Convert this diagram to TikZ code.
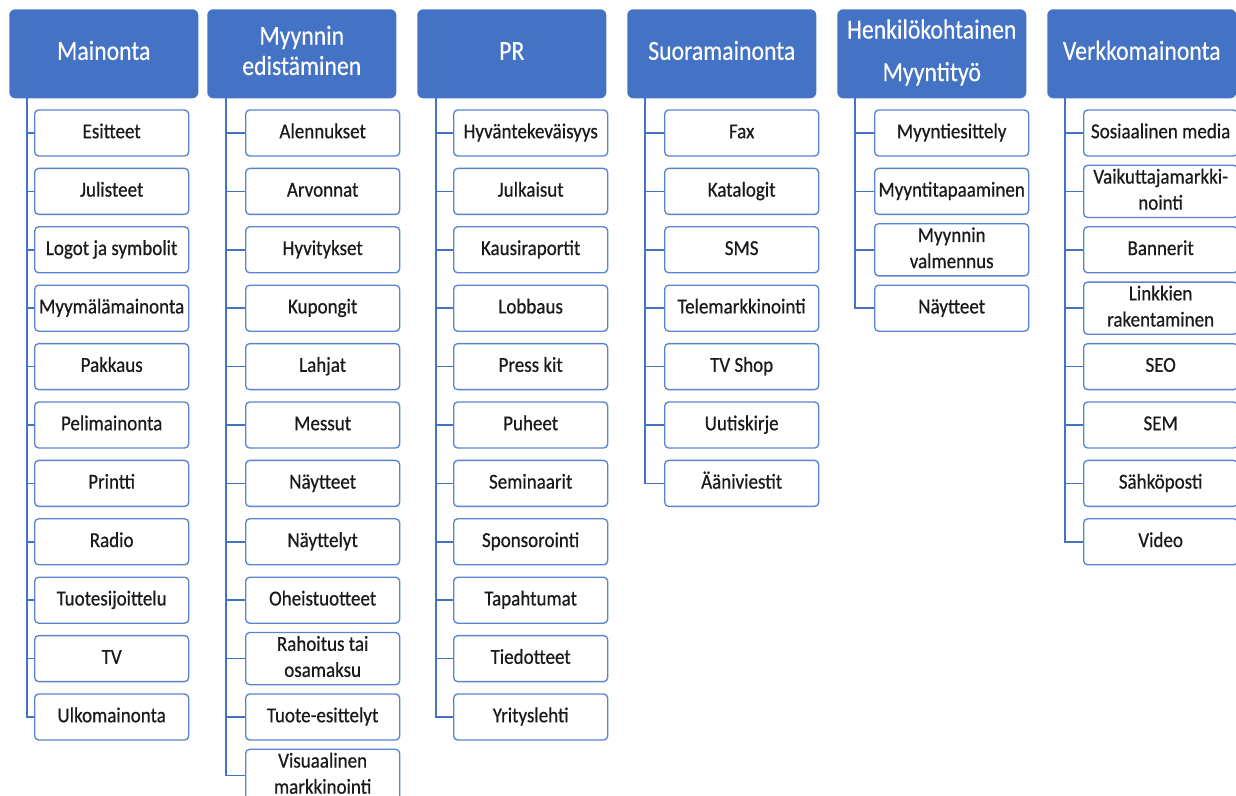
\documentclass[tikz,border=0pt]{standalone}
\usepackage{fontspec}
\setmainfont{Carlito}
\newfontface\itemfont{Carlito}[FakeBold=0.6]
\newfontface\headfont{Carlito}[FakeBold=0.4]
\usepackage{graphicx}
\definecolor{hblue}{HTML}{4472C4}
\definecolor{bblue}{HTML}{5A83D0}
\definecolor{txt}{HTML}{1A1A1A}
\newcommand\ctx[1]{\scalebox{0.92}[1.03]{\begin{tabular}{@{}c@{}}#1\end{tabular}}}
\newcommand\htx[1]{\scalebox{0.89}[1.03]{\begin{tabular}{@{}c@{}}#1\end{tabular}}}
\begin{document}
\begin{tikzpicture}[x=0.75pt,y=-0.75pt,
 head/.style={rectangle, rounded corners=4.5pt, fill=hblue, text=white, minimum width=141.75pt, minimum height=66.75pt, inner sep=0pt, font=\headfont\fontsize{20}{22}\selectfont, anchor=north west},
 item/.style={rectangle, rounded corners=3pt, draw=bblue, line width=1pt, fill=white, text=txt, minimum width=115.5pt, minimum height=34.5pt, inner sep=0pt, font=\itemfont\fontsize{15.5}{19}\selectfont, anchor=west},
 conn/.style={draw=hblue, line width=1.1pt}]
\useasboundingbox (0,0) rectangle (1236,796);
\clip (0,0) rectangle (1236,796);

\node[head] (hA) at (9,9) {\htx{Mainonta}};
\node[head] (hB) at (207,9) {\htx{Myynnin\\edistäminen}};
\node[head] (hC) at (417,9) {\htx{PR}};
\node[head] (hD) at (627,9) {\htx{Suoramainonta}};
\node[head] (hE) at (837,9) {\htx{Henkilökohtainen\\[9pt]Myyntityö}};
\node[head] (hF) at (1047,9) {\htx{Verkkomainonta}};

\coordinate (lA) at (27,98);
\coordinate (lB) at (226,98);
\coordinate (lC) at (436,98);
\coordinate (lD) at (645,98);
\coordinate (lE) at (855,98);
\coordinate (lF) at (1065,98);

\foreach \t [count=\i] in {Esitteet, Julisteet, Logot ja symbolit, Myymälämainonta, Pakkaus, Pelimainonta, Printti, Radio, Tuotesijoittelu, TV, Ulkomainonta}{
  \node[item] (a\i) at (34,{133+58.4*(\i-1)}) {\ctx{\t}};
  \draw[conn] (lA) |- (a\i.west);
}
\foreach \t [count=\i] in {Alennukset, Arvonnat, Hyvitykset, Kupongit, Lahjat, Messut, Näytteet, Näyttelyt, Oheistuotteet, {Rahoitus tai\\osamaksu}, Tuote-esittelyt, {Visuaalinen\\markkinointi}}{
  \node[item] (b\i) at (245,{133+58.4*(\i-1)}) {\ctx{\t}};
  \draw[conn] (lB) |- (b\i.west);
}
\foreach \t [count=\i] in {Hyväntekeväisyys, Julkaisut, Kausiraportit, Lobbaus, Press kit, Puheet, Seminaarit, Sponsorointi, Tapahtumat, Tiedotteet, Yrityslehti}{
  \node[item] (c\i) at (453,{133+58.4*(\i-1)}) {\ctx{\t}};
  \draw[conn] (lC) |- (c\i.west);
}
\foreach \t [count=\i] in {Fax, Katalogit, SMS, Telemarkkinointi, TV Shop, Uutiskirje, Ääniviestit}{
  \node[item] (d\i) at (664,{133+58.4*(\i-1)}) {\ctx{\t}};
  \draw[conn] (lD) |- (d\i.west);
}
\foreach \t [count=\i] in {Myyntiesittely, Myyntitapaaminen, {Myynnin\\valmennus}, Näytteet}{
  \node[item] (e\i) at (874,{133+58.4*(\i-1)}) {\ctx{\t}};
  \draw[conn] (lE) |- (e\i.west);
}
\foreach \t [count=\i] in {Sosiaalinen media, {Vaikuttajamarkki-\\nointi}, Bannerit, {Linkkien\\rakentaminen}, SEO, SEM, Sähköposti, Video}{
  \node[item] (f\i) at (1083,{133+58.4*(\i-1)}) {\ctx{\t}};
  \draw[conn] (lF) |- (f\i.west);
}
\end{tikzpicture}
\end{document}
